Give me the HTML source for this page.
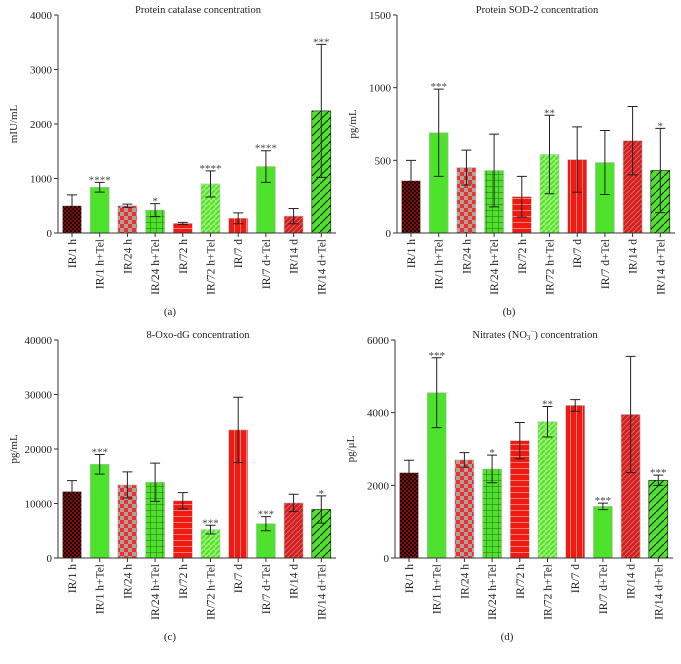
<!DOCTYPE html>
<html><head><meta charset="utf-8"><style>
body{margin:0;background:#fff;width:681px;height:659px;overflow:hidden}
svg{font-family:"Liberation Serif",serif}
</style></head><body>
<svg id="c" width="681" height="659">
<defs>
<pattern id="p0" width="4" height="4" patternUnits="userSpaceOnUse"><rect width="4" height="4" fill="#7a1010"/><rect width="2" height="2" fill="#200"/><rect x="2" y="2" width="2" height="2" fill="#200"/></pattern>
<pattern id="p1" width="4" height="4" patternUnits="userSpaceOnUse"><rect width="4" height="4" fill="#4ee22c"/></pattern>
<pattern id="p2" width="8" height="8" patternUnits="userSpaceOnUse"><rect width="8" height="8" fill="#b0a0a0"/><rect width="4" height="4" fill="#e8322a"/><rect x="4" y="4" width="4" height="4" fill="#e8322a"/></pattern>
<pattern id="p3" width="6" height="6" patternUnits="userSpaceOnUse"><rect width="6" height="6" fill="#4ee22c"/><path d="M0 0H6M0 0V6" stroke="#2a6a18" stroke-width="1"/></pattern>
<pattern id="p4" width="6" height="6" patternUnits="userSpaceOnUse"><rect width="6" height="6" fill="#f01a10"/><path d="M0 0.5H6" stroke="#f08080" stroke-width="1"/></pattern>
<pattern id="p5" width="5" height="5" patternUnits="userSpaceOnUse"><rect width="5" height="5" fill="#9ef070"/><path d="M0 5L5 0" stroke="#4ee22c" stroke-width="2"/></pattern>
<pattern id="p6" width="6" height="6" patternUnits="userSpaceOnUse"><rect width="6" height="6" fill="#f01a10"/><path d="M0.5 0V6" stroke="#f08080" stroke-width="1"/></pattern>
<pattern id="p7" width="4" height="4" patternUnits="userSpaceOnUse"><rect width="4" height="4" fill="#4ee22c"/></pattern>
<pattern id="p8" width="5" height="5" patternUnits="userSpaceOnUse"><rect width="5" height="5" fill="#d02020"/><path d="M0 5L5 0" stroke="#e86060" stroke-width="1"/></pattern>
<pattern id="p9" width="8" height="8" patternUnits="userSpaceOnUse"><rect width="8" height="8" fill="#4ee22c"/><path d="M0 8L8 0" stroke="#111" stroke-width="1"/></pattern>
</defs>
</svg>
<script>
const cats=["IR/1 h","IR/1 h+Tel","IR/24 h","IR/24 h+Tel","IR/72 h","IR/72 h+Tel","IR/7 d","IR/7 d+Tel","IR/14 d","IR/14 d+Tel"];
const valsA=[500,840,500,420,175,900,270,1220,310,2240];
const errA=[200,90,30,120,20,240,100,290,140,1220];
const starsA=["","****","","*","","****","","****","","***"];
const ticksA=[0,1000,2000,3000,4000];
const valsB=[360,690,450,430,250,540,505,485,635,430];
const errB=[140,300,120,250,140,270,225,220,235,290];
const starsB=["","***","","","","**","","","","*"];
const ticksB=[0,500,1000,1500];
const valsC=[12200,17200,13400,13900,10500,5200,23500,6300,10100,8900];
const errC=[2000,1800,2400,3500,1500,800,6000,1300,1600,2500];
const starsC=["","***","","","","***","","***","","*"];
const ticksC=[0,10000,20000,30000,40000];
const valsD=[2350,4550,2700,2450,3230,3750,4200,1420,3950,2140];
const errD=[340,960,200,380,500,420,160,90,1600,140];
const starsD=["","***","","*","","**","","***","","***"];
const ticksD=[0,2000,4000,6000];
const NS="http://www.w3.org/2000/svg",svg=document.getElementById("c");
function mk(t,a,p){const e=document.createElementNS(NS,t);for(const k in a)e.setAttribute(k,a[k]);(p||svg).appendChild(e);return e;}
function panel(id,ax,top,bot,max,vals,errs,stars,ticks,title,ylab,letter){
  const g=mk("g",{});
  
  
  const y=v=>bot-(v/max)*(bot-top);
  const x=i=>ax+14+i*27.7;
  vals.forEach((v,i)=>{
    const r=mk("rect",{x:x(i)-9.5,y:y(v),width:19,height:bot-y(v),fill:"url(#p"+i+")",stroke:(i==9?"#111":"#bbb"),"stroke-width":0.6},g);
    
    
    const e=errs[i],y1=y(v+e),y2=y(Math.max(0,v-e));
    const eb=mk("path",{d:`M${x(i)} ${y1}V${y2}M${x(i)-5} ${y1}H${x(i)+5}M${x(i)-5} ${y2}H${x(i)+5}`,stroke:"#222","stroke-width":1,fill:"none"},g);
    
    
    if(stars[i]){const s=mk("text",{x:x(i),y:y1+1,"text-anchor":"middle","font-size":11,fill:"#444"},g);s.textContent=stars[i];
      
      }
    const lb=mk("text",{transform:`translate(${x(i)+4},${bot+6}) rotate(-90)`,"text-anchor":"end","font-size":11.5,fill:"#222"},g);lb.textContent=cats[i];
    
    
  });
  mk("path",{d:`M${ax} ${top}V${bot}H${ax+278}`,stroke:"#333","stroke-width":1,fill:"none"},g);
  cats.forEach((c,i)=>mk("path",{d:`M${x(i)} ${bot}v4`,stroke:"#333"},g));
  ticks.forEach(t=>{mk("path",{d:`M${ax-4} ${y(t)}H${ax}`,stroke:"#333"},g);
    const tl=mk("text",{x:ax-6,y:y(t)+4,"text-anchor":"end","font-size":11,fill:"#222"},g);tl.textContent=t;
    
    });
  const tt=mk("text",{x:ax+140,y:top-2,"text-anchor":"middle","font-size":10.5,fill:"#222"},g);tt.innerHTML=title;
  
  
  const yl=mk("text",{transform:`translate(${ax-41},${(top+bot)/2}) rotate(-90)`,"text-anchor":"middle","font-size":11,fill:"#222"},g);yl.textContent=ylab;
  
  
  const lt=mk("text",{x:ax+112,y:bot+82,"text-anchor":"middle","font-size":11,fill:"#222"},g);lt.textContent=letter;
  
  
}
panel("a",58,15,233,4000,valsA,errA,starsA,ticksA,"Protein catalase concentration","mIU/mL","(a)");
panel("b",397,15,233,1500,valsB,errB,starsB,ticksB,"Protein SOD-2 concentration","pg/mL","(b)");
panel("c",58,340,558,40000,valsC,errC,starsC,ticksC,"8-Oxo-dG concentration","pg/mL","(c)");
panel("d",395,340,558,6000,valsD,errD,starsD,ticksD,'Nitrates (NO<tspan font-size="7" dy="2">3</tspan><tspan dy="-6" font-size="7">−</tspan><tspan dy="4">) concentration</tspan>',"pg/μL","(d)");
</script>
</body></html>
